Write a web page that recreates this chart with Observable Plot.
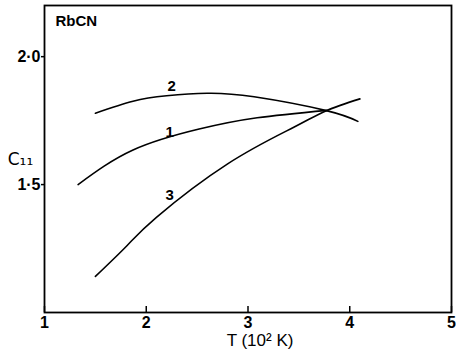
<!DOCTYPE html>
<html>
<head>
<meta charset="utf-8">
<script src="https://cdn.jsdelivr.net/npm/d3@7"></script>
<script src="https://cdn.jsdelivr.net/npm/@observablehq/plot@0.6"></script>
<style>
  html, body { margin: 0; padding: 0; background: #fff; }
</style>
</head>
<body>
<div id="chart"></div>
<script>
// Curve 1
const T1 = [1.33, 1.87, 2.52, 3.09, 3.78];
const C1 = [1.50, 1.635, 1.717, 1.761, 1.79];
// Curve 2
const T2 = [1.5, 1.87, 2.2, 2.6, 3.06, 3.77, 4.08];
const C2 = [1.779, 1.826, 1.847, 1.857, 1.843, 1.789, 1.747];
// Curve 3
const T3 = [1.5, 1.81, 2.1, 2.8, 3.45, 3.77, 4.1];
const C3 = [1.141, 1.261, 1.372, 1.581, 1.724, 1.789, 1.835];

// Curve labels
const curveNames = ["1", "2", "3"];
const labelT = [2.23, 2.25, 2.23];
const labelC = [1.704, 1.884, 1.459];

const xTicks = [1, 2, 3, 4, 5];
const yTicks = [1.5, 2.0];
const title = "RbCN";
const xLabel = "T (10² K)";
const yLabel = "C₁₁";

const series = [
  {name: "1", T: T1, C: C1},
  {name: "2", T: T2, C: C2},
  {name: "3", T: T3, C: C3}
];
const lineData = series.flatMap(s => s.T.map((t, i) => ({series: s.name, T: t, C: s.C[i]})));
const labelData = curveNames.map((n, i) => ({name: n, T: labelT[i], C: labelC[i]}));

const font = "Liberation Sans, Arial, sans-serif";

const chart = Plot.plot({
  width: 456,
  height: 350,
  marginLeft: 44,
  marginRight: 5,
  marginTop: 5,
  marginBottom: 38,
  style: {fontFamily: font, background: "#fff", color: "#000", overflow: "visible"},
  x: {domain: [1, 5]},
  y: {domain: [1.0, 2.2]},
  marks: [
    Plot.frame({stroke: "#000", strokeWidth: 1.8}),
    Plot.axisX({ticks: xTicks, tickSize: 6, dy: -6, tickFormat: () => "", label: null,
      stroke: "#000", strokeWidth: 1.5}),
    Plot.axisX({ticks: xTicks, tickSize: 0, tickPadding: 4, tickFormat: d => String(d), label: null,
      fontSize: 16, fontWeight: "bold", fill: "#000"}),
    Plot.axisY({ticks: yTicks, tickSize: 3, tickPadding: 1, label: null,
      tickFormat: d => d.toFixed(1).replace(".", "·"),
      fontSize: 16, fontWeight: "bold", stroke: "#000", strokeWidth: 1.5}),
    Plot.line(lineData, {x: "T", y: "C", z: "series", curve: "natural", stroke: "#000", strokeWidth: 1.6}),
    Plot.text(labelData, {x: "T", y: "C", text: "name", fontSize: 15, fontWeight: "bold", fill: "#000"}),
    Plot.text([title], {frameAnchor: "top-left", dx: 11, dy: 10, textAnchor: "start", lineAnchor: "top",
      fontSize: 15, fontWeight: "bold", fill: "#000", style: "letter-spacing:1px"}),
    Plot.text([xLabel], {frameAnchor: "bottom", dx: 12, dy: 33, lineAnchor: "bottom",
      fontSize: 17, fill: "#000"}),
    Plot.text([yLabel], {frameAnchor: "left", dx: -24, dy: 1, textAnchor: "middle",
      fontSize: 17, fill: "#000", fontFamily: "DejaVu Sans"})
  ]
});
document.getElementById("chart").appendChild(chart);
</script>
</body>
</html>
